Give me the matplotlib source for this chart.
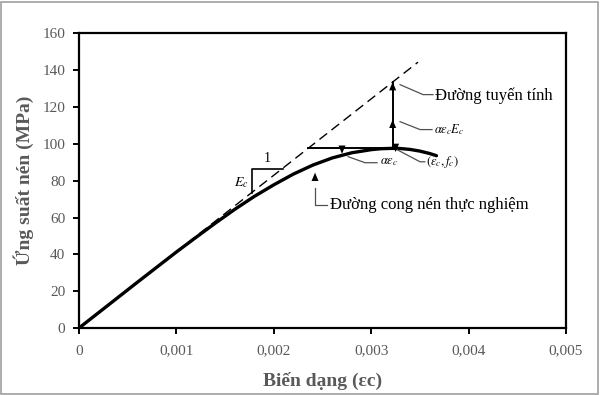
import matplotlib
matplotlib.use("Agg")
import matplotlib.pyplot as plt
from matplotlib.patches import Rectangle
import numpy as np

# duong cong nen thuc nghiem (doc tu hinh)
eps = [0, 0.0002, 0.0004, 0.0006, 0.0008, 0.001, 0.0012, 0.0014, 0.0016,
       0.0018, 0.002, 0.0022, 0.0024, 0.0026, 0.0028, 0.003, 0.0031,
       0.00322, 0.0033, 0.0034, 0.0035, 0.0036, 0.00367]
stress = [0, 8.3, 16.6, 24.9, 33.1, 41.3, 49.2, 57.0, 64.5,
          71.5, 77.8, 83.6, 88.5, 92.4, 95.2, 96.9, 97.4,
          97.6, 97.5, 97.0, 96.1, 94.8, 93.6]

Ec = 41500.0      # MPa
eps_c = 0.00322
f_c = 97.6
alpha = 0.73
eps_lin_end = 0.00348

plt.rcParams['font.family'] = ['Liberation Serif', 'DejaVu Serif']
plt.rcParams['mathtext.fontset'] = 'stix'

fig = plt.figure(figsize=(6, 3.95), dpi=100)
ax = fig.add_axes([0.1317, 0.1696, 0.8117, 0.7456])

# khung xam ngoai
fig.patches.append(Rectangle((0.002, 0.003), 0.994, 0.993, transform=fig.transFigure,
                             fill=False, edgecolor='#a0a0a0', lw=1.2))

# duong tuyen tinh
x_lin = np.array([0, eps_lin_end])
ax.plot(x_lin, Ec * x_lin, color='black', lw=1.0, ls=(0, (7, 4)))

# duong cong
ax.plot(eps, stress, color='black', lw=2.4, solid_capstyle='round',
        solid_joinstyle='round')

# doan ngang alpha*eps_c
a_eps = alpha * eps_c
ax.plot([a_eps, eps_c], [f_c, f_c], color='black', lw=1.4)

# doan dung
top = Ec * eps_c
ax.plot([eps_c, eps_c], [f_c, top], color='black', lw=1.4)

head = dict(arrowstyle='-|>,head_length=0.6,head_width=0.25', color='black',
            lw=0.01, mutation_scale=10, shrinkA=0, shrinkB=0)
ax.annotate('', xy=(eps_c, top), xytext=(eps_c, top - 6), arrowprops=head)
ax.annotate('', xy=(eps_c, 113.2), xytext=(eps_c, 107), arrowprops=head)
ax.annotate('', xy=(0.00270, 94.6), xytext=(0.00270, 98.5), arrowprops=head)
ax.annotate('', xy=(eps_c + 0.00003, 95.6), xytext=(eps_c + 0.00003, 99.5), arrowprops=head)
ax.annotate('', xy=(0.002423, 84.4), xytext=(0.002423, 76), arrowprops=head)

# tam giac do doc
ax.plot([0.00178, 0.00178, 0.00209], [73.6, 86.6, 86.6], color='black', lw=1.2)
ax.text(0.00193, 88.5, '1', fontsize=10, ha='center', va='bottom')
ax.text(0.00174, 79, '$E_c$', fontsize=10, ha='right', va='center')

# duong dan chu thich
lead = dict(color='#505050', lw=0.9)
ax.plot([0.002762, 0.002936, 0.00306], [93.1, 89.8, 89.8], **lead)
ax.text(0.00309, 90.3, r'$\alpha\varepsilon_c$', fontsize=9, va='center')

ax.plot([0.003265, 0.003501, 0.00355], [96.9, 90.3, 90.3], **lead)
ax.text(0.003565, 90.3, r'$(\varepsilon_c, f_c)$', fontsize=9, va='center')

ax.plot([0.003296, 0.003532, 0.003634], [132.2, 126.8, 126.8], **lead)
ax.text(0.003655, 126.3, 'Đường tuyến tính', fontsize=12, va='center')

ax.plot([0.003296, 0.003501, 0.003624], [112.1, 107.8, 107.8], **lead)
ax.text(0.003640, 107.8, r'$\alpha\varepsilon_c E_c$', fontsize=9, va='center')

ax.plot([0.002423, 0.002423, 0.002546], [76, 66.9, 66.9], **lead)
ax.text(0.002577, 66.6, 'Đường cong nén thực nghiệm', fontsize=12, va='center')

ax.set_xlim(0, 0.005)
ax.set_ylim(0, 160)
ax.set_xticks([0, 0.001, 0.002, 0.003, 0.004, 0.005])
ax.set_xticklabels(['0', '0,001', '0,002', '0,003', '0,004', '0,005'])
ax.set_yticks(range(0, 161, 20))

for s in ax.spines.values():
    s.set_linewidth(1.6)
ax.tick_params(direction='out', length=4, width=1.4, labelsize=11,
               labelcolor='#595959')
ax.tick_params(axis='x', pad=8)
ax.tick_params(axis='y', pad=6)

ax.set_xlabel('Biến dạng (εc)', fontsize=14, fontweight='bold', color='#595959', labelpad=10)
ax.set_ylabel('Ứng suất nén (MPa)', fontsize=14, fontweight='bold', color='#595959', labelpad=6)

fig.savefig('out.png', dpi=100)
